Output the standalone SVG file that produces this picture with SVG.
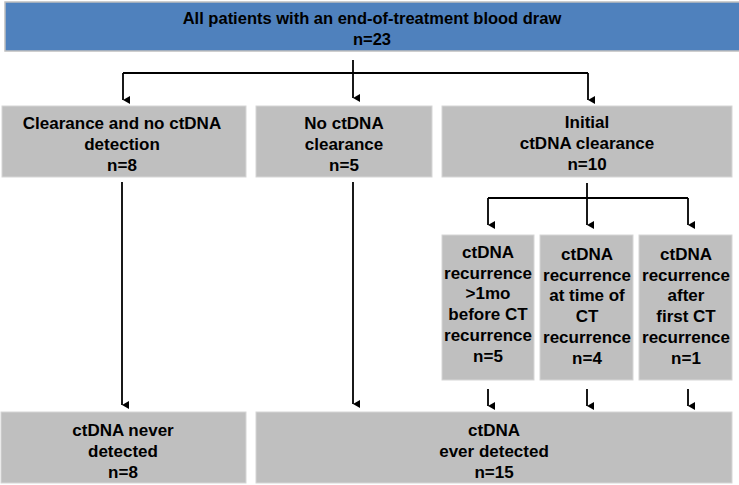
<svg xmlns="http://www.w3.org/2000/svg" width="739" height="485" viewBox="0 0 739 485">
<defs>
<marker id="ah" viewBox="0 0 8 7" refX="4" refY="7" markerWidth="8" markerHeight="7" markerUnits="userSpaceOnUse" orient="auto-start-reverse">
<path d="M0,0 L8,0 L4,7 Z" fill="#000"/>
</marker>
<style>
.box{fill:#BFBFBF;stroke:#D6D6D6;stroke-width:1}
.top{fill:#4F81BD;stroke:#BFBFBF;stroke-width:1.5}
.t{font-family:"Liberation Sans",Arial,sans-serif;font-weight:bold;font-size:17px;fill:#000;text-anchor:middle;dominant-baseline:central}
.tt{font-size:16.5px}
.ln{fill:none;stroke:#000;stroke-width:1.8}
.ar{fill:none;stroke:#000;stroke-width:1.8;marker-end:url(#ah)}
</style>
</defs>

<g id="root">
<rect class="top" x="5" y="2" width="736" height="49"/>
<text class="t tt" x="372" y="18">All patients with an end-of-treatment blood draw</text>
<text class="t tt" x="372" y="39">n=23</text>
</g>

<g id="clearanceNoDetection">
<rect class="box" x="2" y="106" width="244" height="71"/>
<text class="t" x="122" y="123">Clearance and no ctDNA</text>
<text class="t" x="122" y="144">detection</text>
<text class="t" x="122" y="165">n=8</text>
</g>

<g id="noClearance">
<rect class="box" x="256" y="106" width="176" height="71"/>
<text class="t" x="344" y="123">No ctDNA</text>
<text class="t" x="344" y="144">clearance</text>
<text class="t" x="344" y="165">n=5</text>
</g>

<g id="initialClearance">
<rect class="box" x="442" y="106" width="290" height="71"/>
<text class="t" x="587" y="122">Initial</text>
<text class="t" x="587" y="143">ctDNA clearance</text>
<text class="t" x="587" y="164">n=10</text>
</g>

<g id="recBefore">
<rect class="box" x="442" y="235" width="92" height="145"/>
<text class="t" x="488" y="252">ctDNA</text>
<text class="t" x="488" y="273">recurrence</text>
<text class="t" x="488" y="293">&gt;1mo</text>
<text class="t" x="488" y="314">before CT</text>
<text class="t" x="488" y="335">recurrence</text>
<text class="t" x="488" y="356">n=5</text>
</g>

<g id="recAt">
<rect class="box" x="540" y="235" width="93" height="145"/>
<text class="t" x="587" y="254">ctDNA</text>
<text class="t" x="587" y="275">recurrence</text>
<text class="t" x="587" y="295">at time of</text>
<text class="t" x="587" y="316">CT</text>
<text class="t" x="587" y="337">recurrence</text>
<text class="t" x="587" y="358">n=4</text>
</g>

<g id="recAfter">
<rect class="box" x="639" y="235" width="93" height="145"/>
<text class="t" x="686" y="254">ctDNA</text>
<text class="t" x="686" y="275">recurrence</text>
<text class="t" x="686" y="295">after</text>
<text class="t" x="686" y="316">first CT</text>
<text class="t" x="686" y="337">recurrence</text>
<text class="t" x="686" y="358">n=1</text>
</g>

<g id="neverDetected">
<rect class="box" x="1" y="412" width="245" height="71"/>
<text class="t" x="123" y="430">ctDNA never</text>
<text class="t" x="123" y="451">detected</text>
<text class="t" x="123" y="472">n=8</text>
</g>

<g id="everDetected">
<rect class="box" x="256" y="412" width="476" height="71"/>
<text class="t" x="494" y="430">ctDNA</text>
<text class="t" x="494" y="451">ever detected</text>
<text class="t" x="494" y="472">n=15</text>
</g>

<g id="connectors">
<path class="ln" d="M353,60 V73"/>
<path class="ln" d="M123,73 H588"/>
<path class="ar" d="M123,73 V100"/>
<path class="ar" d="M353,73 V98"/>
<path class="ar" d="M588,73 V100"/>
<path class="ln" d="M587,183 V198"/>
<path class="ln" d="M488,198 H688"/>
<path class="ar" d="M488,198 V225"/>
<path class="ar" d="M587,198 V225"/>
<path class="ar" d="M688,198 V225"/>
<path class="ar" d="M122,182 V405"/>
<path class="ar" d="M353,182 V404"/>
<path class="ar" d="M488,389 V406"/>
<path class="ar" d="M587,389 V406"/>
<path class="ar" d="M688,389 V406"/>
</g>
</svg>
